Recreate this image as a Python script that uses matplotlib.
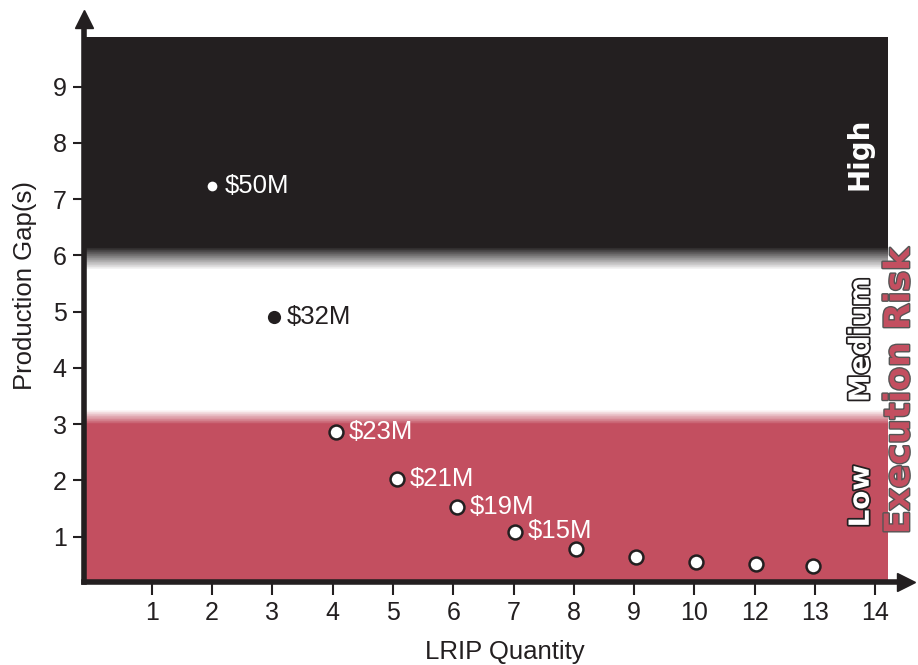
import numpy as np
import matplotlib
matplotlib.use("Agg")
from matplotlib import pyplot as plt
import matplotlib.patheffects as pe

plt.rcParams["font.family"] = ["Liberation Sans", "DejaVu Sans"]

# data (x is the tick slot, 1..13)
slot_pos = [1, 2, 3, 4, 5, 6, 7, 8, 9, 10, 11, 12, 13]
slot_labels = ["1", "2", "3", "4", "5", "6", "7", "8", "9", "10", "12", "13", "14"]
pt_x = [2.0, 3.03, 4.05, 5.07, 6.07, 7.02, 8.03, 9.03, 10.03, 11.03, 11.97]
pt_y = [7.24, 4.91, 2.86, 2.03, 1.53, 1.08, 0.78, 0.64, 0.55, 0.52, 0.48]
pt_cost = ["$50M", "$32M", "$23M", "$21M", "$19M", "$15M", "", "", "", "", ""]

risk_names = ["High", "Medium", "Low"]
risk_y = [7.8, 4.5, 1.72]

DARK = "#231f20"
RED = "#c34f60"

XMIN, XMAX = -0.133, 13.51
YMIN, YMAX = 0.196, 10.2
BAND_RIGHT, BAND_TOP = 13.19, 9.88

fig = plt.figure(figsize=(9.18, 6.65), dpi=100)
ax = fig.add_axes([83.5 / 918, 83 / 665, (906 - 83.5) / 918, (582 - 19) / 665])
ax.set_xlim(XMIN, XMAX)
ax.set_ylim(YMIN, YMAX)

# risk bands as a vertical gradient image
ys = np.linspace(YMIN, BAND_TOP, 800)
dark = np.array(matplotlib.colors.to_rgb(DARK))
red = np.array(matplotlib.colors.to_rgb(RED))
white = np.ones(3)
bp = [YMIN, 3.0, 3.25, 5.75, 6.15, BAND_TOP]
cols = [red, red, white, white, dark, dark]
img = np.zeros((len(ys), 1, 3))
for c in range(3):
    img[:, 0, c] = np.interp(ys, bp, [k[c] for k in cols])
ax.imshow(img, extent=[XMIN, BAND_RIGHT, YMIN, BAND_TOP], origin="lower",
          aspect="auto", interpolation="nearest", zorder=0)

# points
ax.plot(pt_x[0], pt_y[0], "o", color="white", ms=7, mew=0, zorder=3)
ax.plot(pt_x[1], pt_y[1], "o", color=DARK, ms=9.5, mew=0, zorder=3)
ax.plot(pt_x[2:], pt_y[2:], "o", ls="none", mfc="white", mec=DARK, ms=10,
        mew=1.8, zorder=3)

for i, (x, y, t) in enumerate(zip(pt_x, pt_y, pt_cost)):
    if not t:
        continue
    ax.annotate(t, (x, y), xytext=(9, 0 if i != 5 else 1), textcoords="offset points",
                va="center", ha="left", fontsize=18.5,
                color=DARK if i == 1 else "white", zorder=4)

# risk labels on the right of the bands
ax.text(12.74, risk_y[0], risk_names[0], rotation=90, ha="center", va="center",
        fontsize=20, fontweight="bold", color="white", family="DejaVu Sans")
for name, y in zip(risk_names[1:], risk_y[1:]):
    ax.text(12.76, y, name, rotation=90, ha="center", va="center",
            fontsize=20, fontweight="bold", color="white", family="DejaVu Sans",
            path_effects=[pe.Stroke(linewidth=2.5, foreground=DARK), pe.Normal()])

fig.text(916 / 918, (665 - 391) / 665, "Execution Risk", rotation=90,
         rotation_mode="anchor", ha="center", va="bottom",
         fontsize=25, fontweight="bold", color=RED, family="DejaVu Sans",
         path_effects=[pe.Stroke(linewidth=2, foreground="#555555"), pe.Normal()])

# axes with arrows
for s in ["top", "right"]:
    ax.spines[s].set_visible(False)
for s in ["left", "bottom"]:
    ax.spines[s].set_linewidth(4)
    ax.spines[s].set_color(DARK)
ax.plot(1, 0, ">", color=DARK, ms=13, transform=ax.transAxes, clip_on=False)
ax.plot(0, 1, "^", color=DARK, ms=13, transform=ax.transAxes, clip_on=False)

ax.set_xticks(slot_pos)
ax.set_xticklabels(slot_labels)
ax.set_yticks(range(1, 10))
ax.tick_params(axis="x", direction="out", length=9, width=1.5, color=DARK,
               labelsize=18, pad=5, labelcolor=DARK)
ax.tick_params(axis="y", direction="out", length=8, width=1.5, color=DARK,
               labelsize=18, pad=4, labelcolor=DARK)

ax.set_xlabel("LRIP Quantity", fontsize=18.5, color=DARK)
ax.xaxis.set_label_coords((505 - 83.5) / 822.5, (582 - 640) / 563)
fig.text(25 / 918, (665 - 285) / 665, "Production Gap(s)", rotation=90,
         ha="center", va="center", fontsize=18.5, color=DARK)

fig.savefig("out.png", dpi=100)
